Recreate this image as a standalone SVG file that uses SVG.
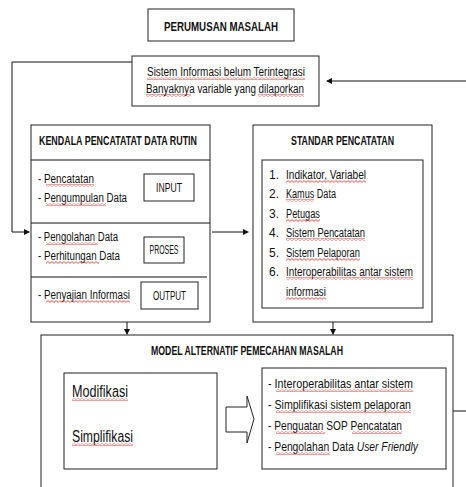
<svg xmlns="http://www.w3.org/2000/svg" width="466" height="487" viewBox="0 0 466 487">
<style>
.box{fill:#fff;stroke:#222;stroke-width:1}
.ln{fill:none;stroke:#111;stroke-width:1}
text{font-family:"Liberation Sans",Arial,sans-serif;fill:#111}
.t{font-size:12px}
.b{font-size:12px;font-weight:bold}
.m{font-size:13px}
.l{font-size:16px}
.sq{fill:url(#wave)}
</style>
<defs>
<pattern id="wave" patternUnits="userSpaceOnUse" width="4" height="3">
<path d="M0,0.6 L2,2.4 L4,0.6" fill="none" stroke="#e02020" stroke-width="0.8"/>
</pattern>
<marker id="ah" markerWidth="6" markerHeight="6" refX="5" refY="3" orient="auto" markerUnits="userSpaceOnUse">
<path d="M0,0 L6,3 L0,6 z" fill="#111"/>
</marker>
</defs>
<rect width="466" height="487" fill="#fff"/>

<g id="connectors">
<polyline class="ln" points="132,62 12,62 12,232 29,232" marker-end="url(#ah)"/>
<line class="ln" x1="466" y1="81" x2="327" y2="81" marker-end="url(#ah)"/>
<line class="ln" x1="212" y1="232" x2="248" y2="232" marker-end="url(#ah)"/>
<line class="ln" x1="127" y1="322" x2="127" y2="334" marker-end="url(#ah)"/>
<line class="ln" x1="333" y1="322" x2="333" y2="334" marker-end="url(#ah)"/>
<line class="ln" x1="446" y1="411" x2="466" y2="411"/>
</g>

<g id="perumusan">
<rect class="box" x="148" y="9" width="146" height="32"/>
<text class="b" x="221" y="31" text-anchor="middle" textLength="114" lengthAdjust="spacingAndGlyphs">PERUMUSAN MASALAH</text>
</g>

<g id="sistem">
<rect class="box" x="132" y="56" width="187" height="50"/>
<text class="t" x="147" y="76" textLength="158" lengthAdjust="spacingAndGlyphs">Sistem Informasi belum Terintegrasi</text>
<text class="t" x="146" y="93" textLength="158" lengthAdjust="spacingAndGlyphs">Banyaknya variable yang dilaporkan</text>
<rect class="sq" x="147" y="77" width="158" height="3"/>
<rect class="sq" x="146" y="94" width="45" height="3"/>
<rect class="sq" x="258" y="94" width="46" height="3"/>
</g>

<g id="kendala">
<rect class="box" x="31" y="125" width="179" height="197"/>
<line class="ln" x1="31" y1="160" x2="210" y2="160"/>
<line class="ln" x1="31" y1="223" x2="210" y2="223"/>
<line class="ln" x1="31" y1="277" x2="207" y2="277"/>
<text class="b" x="39" y="145" textLength="158" lengthAdjust="spacingAndGlyphs">KENDALA PENCATATAT DATA RUTIN</text>
<text class="t" x="38" y="183" textLength="56" lengthAdjust="spacingAndGlyphs">- Pencatatan</text>
<text class="t" x="38" y="202" textLength="89" lengthAdjust="spacingAndGlyphs">- Pengumpulan Data</text>
<text class="t" x="38" y="241" textLength="80" lengthAdjust="spacingAndGlyphs">- Pengolahan Data</text>
<text class="t" x="38" y="260" textLength="82" lengthAdjust="spacingAndGlyphs">- Perhitungan Data</text>
<text class="t" x="38" y="299" textLength="92" lengthAdjust="spacingAndGlyphs">- Penyajian Informasi</text>
<rect class="sq" x="46" y="184" width="48" height="3"/>
<rect class="sq" x="46" y="203" width="60" height="3"/>
<rect class="sq" x="46" y="242" width="52" height="3"/>
<rect class="sq" x="46" y="261" width="53" height="3"/>
<rect class="sq" x="46" y="300" width="84" height="3"/>
<rect class="box" x="144" y="174" width="50" height="27"/>
<text class="t" x="169" y="192" text-anchor="middle" textLength="26" lengthAdjust="spacingAndGlyphs">INPUT</text>
<rect class="box" x="144" y="237" width="40" height="26"/>
<text class="t" x="164" y="254" text-anchor="middle" textLength="29" lengthAdjust="spacingAndGlyphs">PROSES</text>
<rect class="box" x="141" y="282" width="57" height="27"/>
<text class="t" x="169.5" y="300" text-anchor="middle" textLength="33" lengthAdjust="spacingAndGlyphs">OUTPUT</text>
</g>

<g id="standar">
<rect class="box" x="253" y="125" width="179" height="197"/>
<text class="b" x="291" y="145" textLength="103" lengthAdjust="spacingAndGlyphs">STANDAR PENCATATAN</text>
<rect class="box" x="262" y="160" width="161" height="148"/>
<text class="t" x="269" y="179">1.</text>
<text class="t" x="269" y="198">2.</text>
<text class="t" x="269" y="218">3.</text>
<text class="t" x="269" y="237">4.</text>
<text class="t" x="269" y="257">5.</text>
<text class="t" x="269" y="276">6.</text>
<text class="t" x="286" y="179" textLength="80" lengthAdjust="spacingAndGlyphs">Indikator, Variabel</text>
<text class="t" x="286" y="198" textLength="50" lengthAdjust="spacingAndGlyphs">Kamus Data</text>
<text class="t" x="286" y="218" textLength="34" lengthAdjust="spacingAndGlyphs">Petugas</text>
<text class="t" x="286" y="237" textLength="79" lengthAdjust="spacingAndGlyphs">Sistem Pencatatan</text>
<text class="t" x="286" y="257" textLength="74" lengthAdjust="spacingAndGlyphs">Sistem Pelaporan</text>
<text class="t" x="286" y="276" textLength="127" lengthAdjust="spacingAndGlyphs">Interoperabilitas antar sistem</text>
<text class="t" x="286" y="296" textLength="40" lengthAdjust="spacingAndGlyphs">informasi</text>
<rect class="sq" x="286" y="180" width="80" height="3"/>
<rect class="sq" x="286" y="199" width="28" height="3"/>
<rect class="sq" x="286" y="219" width="34" height="3"/>
<rect class="sq" x="286" y="238" width="79" height="3"/>
<rect class="sq" x="286" y="258" width="74" height="3"/>
<rect class="sq" x="286" y="277" width="127" height="3"/>
<rect class="sq" x="286" y="297" width="40" height="3"/>
</g>

<g id="model">
<rect class="box" x="41" y="335" width="412" height="160"/>
<text class="b" x="151" y="355" textLength="192" lengthAdjust="spacingAndGlyphs">MODEL ALTERNATIF PEMECAHAN MASALAH</text>
<rect class="box" x="64" y="373" width="153" height="96"/>
<text class="l" x="72" y="397" textLength="56" lengthAdjust="spacingAndGlyphs">Modifikasi</text>
<text class="l" x="72" y="442" textLength="61" lengthAdjust="spacingAndGlyphs">Simplifikasi</text>
<rect class="sq" x="72" y="398" width="56" height="3"/>
<rect class="sq" x="72" y="443" width="61" height="3"/>
<polygon class="box" points="226,407 247,407 247,396 254,419 247,443 247,432 226,432"/>
<rect class="box" x="262" y="368" width="184" height="101"/>
<text class="m" x="268" y="388" textLength="145" lengthAdjust="spacingAndGlyphs">- Interoperabilitas antar sistem</text>
<text class="m" x="268" y="409" textLength="143" lengthAdjust="spacingAndGlyphs">- Simplifikasi sistem pelaporan</text>
<text class="m" x="268" y="430" textLength="134" lengthAdjust="spacingAndGlyphs">- Penguatan SOP Pencatatan</text>
<text class="m" transform="translate(268 451) scale(0.793 1)">- Pengolahan Data <tspan font-style="italic">User Friendly</tspan></text>
<rect class="sq" x="276" y="389" width="137" height="3"/>
<rect class="sq" x="276" y="410" width="135" height="3"/>
<rect class="sq" x="276" y="431" width="49" height="3"/>
<rect class="sq" x="352" y="431" width="50" height="3"/>
<rect class="sq" x="276" y="452" width="54" height="3"/>
</g>
</svg>
